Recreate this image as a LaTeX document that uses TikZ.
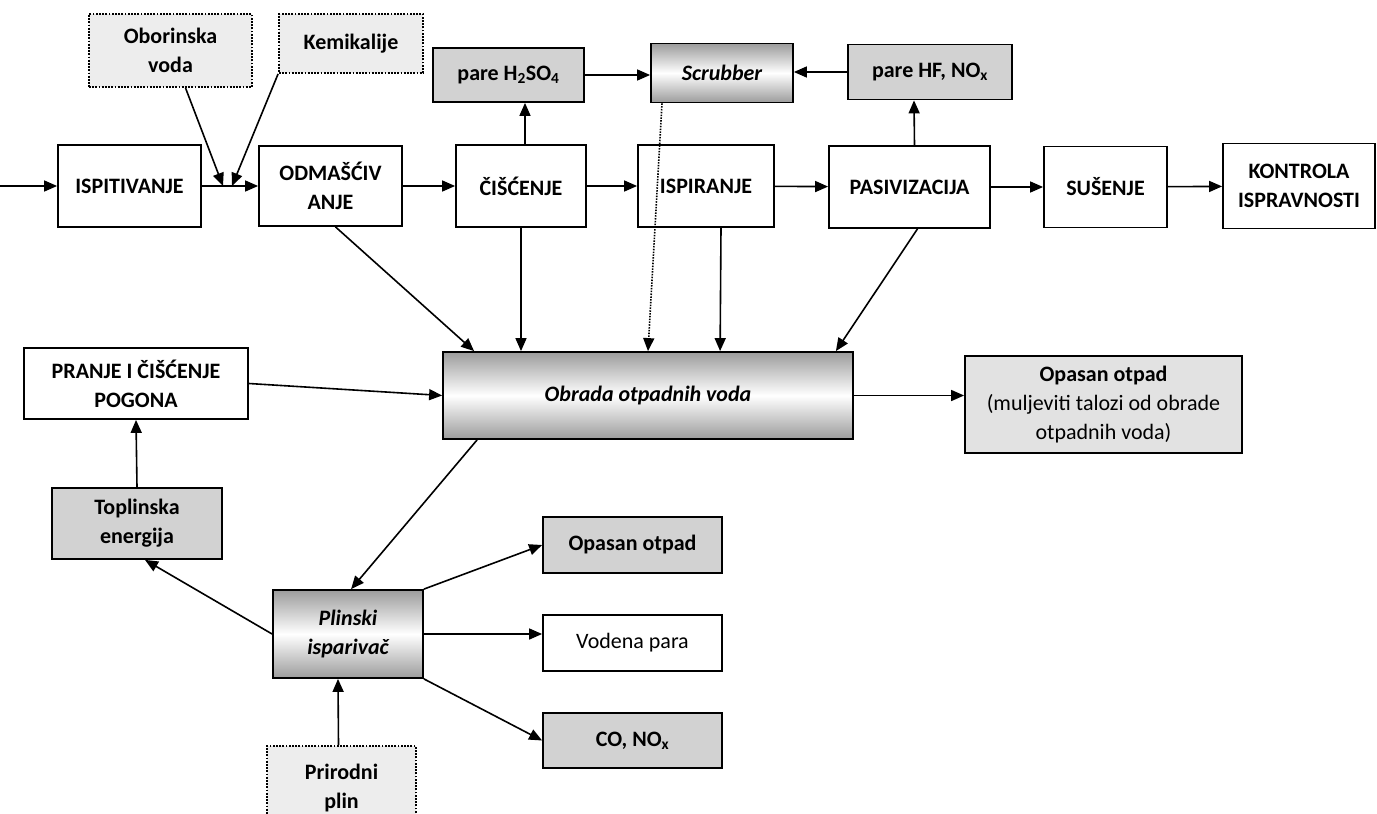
\documentclass[tikz,border=0pt]{standalone}
\usepackage{fontspec}
\setmainfont{Carlito}
\usetikzlibrary{calc, arrows.meta}

\definecolor{boxgray}{HTML}{D2D2D2}
\definecolor{palegray}{HTML}{E2E2E2}
\definecolor{inputgray}{HTML}{EDEDED}
\definecolor{shadegray}{HTML}{9C9C9C}
\newcommand{\boxfont}{\fontsize{22}{29}\selectfont\bfseries}

\tikzset{
  % Set arrowhead
  >={Triangle[length=13pt, width=11pt]},
  % Box size in pixels of the sketch
  sz/.style 2 args={minimum width=#1pt, minimum height=#2pt},
  % General box
  box/.style={draw, line width=1.8pt, fill=white, inner sep=2pt,
    align=center, font=\boxfont},
  % Process step
  pnode/.style={box},
  % By-product node
  gnode/.style={box, fill=boxgray},
  % Input node
  inode/.style={box, fill=inputgray, dash pattern=on 1.8pt off 1.4pt,
    line width=1.8pt},
  % Treatment unit node
  unode/.style={box, top color=shadegray, bottom color=shadegray,
    middle color=white, font=\boxfont\itshape},
  % Flows
  flow/.style={->, line width=1.6pt},
  dflow/.style={flow, dash pattern=on 1.5pt off 1.3pt},
}

\begin{document}
\begin{tikzpicture}[x=1pt, y=-1pt]
  \clip (0,0) rectangle (1377,814);
  \fill[white] (0,0) rectangle (1377,814);

  % main line
  \coordinate (start) at (0,186);
  \node[pnode, sz={143}{82}] (isp) at (129.5,186) {ISPITIVANJE};
  \node[pnode, sz={143}{80}] (odm) at (330.5,186) {ODMAŠĆIV\\ANJE};
  \node[pnode, sz={130}{82}] (cis) at (521,186) {ČIŠĆENJE};
  \node[pnode, sz={136}{82}] (ispir) at (706,186) {ISPIRANJE};
  \node[pnode, sz={161}{82}] (pas) at (909.5,187) {PASIVIZACIJA};
  \node[pnode, sz={123}{81}] (sus) at (1105.5,187) {SUŠENJE};
  \node[pnode, sz={152}{85}] (kon) at (1299,186) {KONTROLA\\ISPRAVNOSTI};

  % inputs and vapours
  \node[inode, sz={163}{73}] (obo) at (170.5,50.5) {Oborinska\\voda};
  \node[inode, sz={144}{59}] (kem) at (351,43.5) {Kemikalije};
  \node[gnode, sz={151}{54}] (h2so4) at (508.5,75) {pare H\textsubscript{2}SO\textsubscript{4}};
  \node[unode, sz={142}{59}] (scr) at (722,73) {Scrubber};
  \node[gnode, sz={164}{55}] (hf) at (930,72) {pare HF, NO\textsubscript{x}};
  \coordinate (in1) at (223,186);
  \coordinate (in2) at (232,186);

  % waste water
  \node[unode, sz={410}{87}] (obr) at (648,395.5) {Obrada otpadnih voda};
  \node[pnode, sz={224}{71}] (pranje) at (136,383.5) {PRANJE I ČIŠĆENJE\\POGONA};
  \node[gnode, fill=palegray, sz={277}{97}] (opbig) at (1103.5,404.5)
    {Opasan otpad\\\mdseries(muljeviti talozi od obrade\\\mdseries otpadnih voda)};

  % evaporator
  \node[gnode, sz={170}{71}] (topl) at (137,523.5) {Toplinska\\energija};
  \node[unode, sz={150}{88}] (plin) at (348,634) {Plinski\\isparivač};
  \node[gnode, sz={179}{56}] (opsm) at (632.5,545) {Opasan otpad};
  \node[pnode, sz={179}{56}, font=\boxfont\mdseries] (vod) at (632.5,643) {Vodena para};
  \node[gnode, sz={179}{55}] (co) at (632.5,740.5) {CO, NO\textsubscript{x}};
  \node[inode, sz={149}{84}] (prir) at (341.5,788) {Prirodni\\plin};

  \draw[flow] (start) -- (isp);
  \draw[flow] (isp) -- (odm);
  \draw[flow] ($(obo.south)+(15,0)$) -- (in1);
  \draw[flow] (kem.south west) -- (in2);
  \draw[flow] (odm) -- (cis);
  \draw[flow] (cis) -- (ispir);
  \draw[flow] (ispir) -- (pas);
  \draw[flow] (pas) -- (sus);
  \draw[flow] (sus) -- (kon);

  \draw[flow] ($(cis.north)+(4,0)$) -- ($(h2so4.south)+(16.5,0)$);
  \draw[flow] (h2so4.east) -- (h2so4.east -| scr.west);
  \draw[flow] (hf.west) -- (hf.west -| scr.east);
  \draw[flow] ($(pas.north)+(5,0)$) -- ($(hf.south)+(-16,0)$);

  \draw[flow] ($(odm.south)+(5,0)$) -- ($(obr.north west)+(32,0)$);
  \draw[flow] (cis.south) -- (cis.south |- obr.north);
  \draw[dflow] ($(scr.south)+(-60,0)$) -- (obr.north);
  \draw[flow] ($(ispir.south)+(15,0)$) -- ($(obr.north west)+(278,0)$);
  \draw[flow] ($(pas.south)+(8,0)$) -- ($(obr.north east)+(-18,0)$);
  \draw[flow] (pranje.east) -- (obr.west);
  \draw[flow] (obr.east) -- (obr.east -| opbig.west);

  \draw[flow] ($(obr.south west)+(35,0)$) -- ($(plin.north west)+(79,0)$);
  \draw[flow] (topl.north) -- (pranje.south);
  \draw[flow] (plin.west) -- ($(topl.south)+(8,0)$);
  \draw[flow] (plin.north east) -- (opsm.west);
  \draw[flow] (plin.east) -- (plin.east -| vod.west);
  \draw[flow] (plin.south east) -- (co.west);
  \draw[flow] ($(prir.north)+(-3,0)$) -- ($(plin.south)+(-10,0)$);
\end{tikzpicture}
\end{document}
